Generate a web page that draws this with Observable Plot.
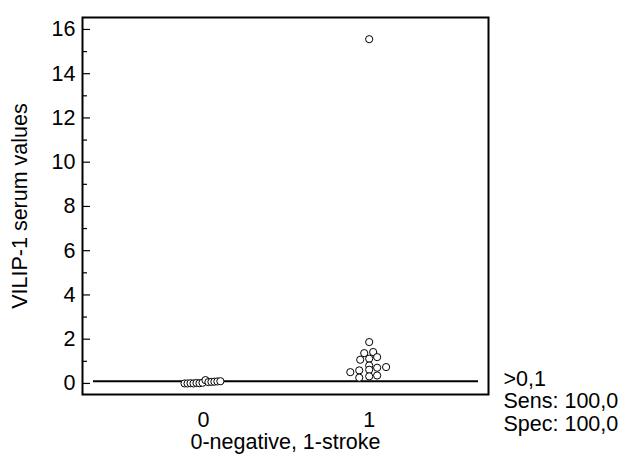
<!DOCTYPE html>
<html>
<head>
<meta charset="utf-8">
<script src="https://cdn.jsdelivr.net/npm/d3@7"></script>
<script src="https://cdn.jsdelivr.net/npm/@observablehq/plot@0.6"></script>
<style>
  body { margin: 0; background: #fff; }
  #chart svg { font-family: "Liberation Sans", Arial, sans-serif; }
  #chart svg text { font-size: 21.5px; fill: #000; }
</style>
</head>
<body>
<div id="chart"></div>
<script>
// Group 0 (negative): values and horizontal jitter (in x units)
const group0Values = [0.0, 0.0, 0.01, 0.0, 0.02, 0.01, 0.03, 0.15, 0.06, 0.07, 0.08, 0.09, 0.1];
const group0Jitter = [-0.114, -0.096, -0.078, -0.06, -0.042, -0.024, -0.006, 0.012, 0.03, 0.048, 0.066, 0.084, 0.102];
// Group 1 (stroke)
const group1Values = [15.56, 1.87, 1.37, 1.42, 1.07, 1.12, 1.19, 0.81, 0.59, 0.51, 0.71, 0.74, 0.62, 0.26, 0.32, 0.36];
const group1Jitter = [0, 0, -0.03, 0.024, -0.054, 0, 0.048, 0, -0.06, -0.114, 0.048, 0.102, 0, -0.06, 0, 0.048];
const groups = [0, 1];
const cutoff = 0.1;
const statLines = [">0,1", "Sens: 100,0", "Spec: 100,0"];
const yMajor = [0, 2, 4, 6, 8, 10, 12, 14, 16];
const yMinor = [1, 3, 5, 7, 9, 11, 13, 15];
const xLabel = "0-negative, 1-stroke";
const yLabel = "VILIP-1 serum values";

const points = [
  ...group0Values.map((v, i) => ({x: groups[0] + group0Jitter[i], y: v})),
  ...group1Values.map((v, i) => ({x: groups[1] + group1Jitter[i], y: v}))
];

const chart = Plot.plot({
  width: 625,
  height: 457,
  marginLeft: 82,
  marginTop: 17,
  marginRight: 137,
  marginBottom: 63,
  style: {fontFamily: "Liberation Sans, Arial, sans-serif", fontSize: "21.5px", background: "#fff", overflow: "visible"},
  x: {domain: [-0.73, 1.72]},
  y: {domain: [-0.5, 16.54]},
  marks: [
    Plot.ruleY([cutoff], {stroke: "#000", strokeWidth: 2, insetLeft: 11, insetRight: 10}),
    Plot.dot(points, {x: "x", y: "y", r: 3.6, stroke: "#000", strokeWidth: 1, fill: "#fff"}),
    Plot.frame({stroke: "#000", strokeWidth: 2}),
    Plot.axisY(yMajor, {anchor: "left", tickSize: 0, tickPadding: 7, label: null, fill: "#000"}),
    Plot.axisY(yMajor, {anchor: "left", tickSize: -8, text: null, label: null, stroke: "#000", strokeWidth: 1.2}),
    Plot.axisY(yMinor, {anchor: "left", tickSize: -5, text: null, label: null, stroke: "#000", strokeWidth: 1.2}),
    Plot.axisX(groups, {anchor: "bottom", tickSize: 0, tickPadding: 17, label: null, fill: "#000", tickFormat: d => String(d)}),
    Plot.text([xLabel], {frameAnchor: "bottom", dy: 54, text: d => d, fill: "#000"}),
    Plot.text([yLabel], {frameAnchor: "left", dx: -62, rotate: -90, textAnchor: "middle", text: d => d, fill: "#000"}),
    Plot.text([statLines.join("\n")], {frameAnchor: "bottom-right", dx: 15, dy: -24, lineAnchor: "top", lineHeight: 1.03, textAnchor: "start", text: d => d, fill: "#000"})
  ]
});
document.getElementById("chart").appendChild(chart);
</script>
</body>
</html>
